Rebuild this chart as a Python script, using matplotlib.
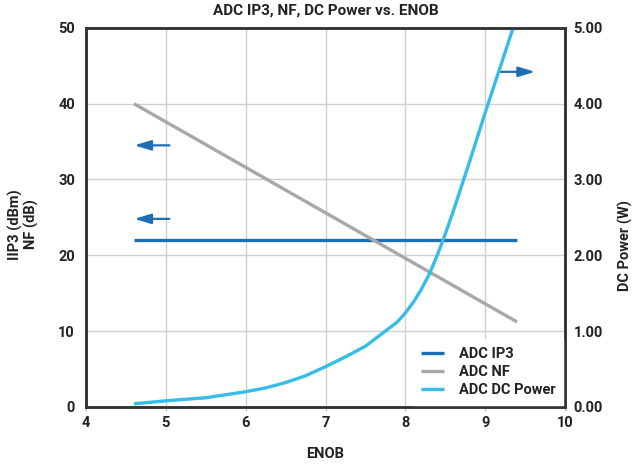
import matplotlib
matplotlib.use("Agg")
import matplotlib.pyplot as plt

plt.rcParams['font.family'] = ['Roboto', 'DejaVu Sans']
plt.rcParams['font.weight'] = 'bold'

# Data
enob_lin = [4.6, 9.4]
ip3 = [22, 22]
nf = [40, 11.2]
enob_pwr = [4.6, 4.8, 5.0, 5.25, 5.5, 5.75, 6.0, 6.25, 6.5, 6.75, 7.0, 7.25, 7.5, 7.75,
            7.9, 8.0, 8.1, 8.2, 8.3, 8.4, 8.5, 8.6, 8.7, 8.8, 8.9, 9.0, 9.1, 9.2, 9.3, 9.4]
dc_power = [0.04, 0.06, 0.08, 0.10, 0.12, 0.16, 0.20, 0.25, 0.32, 0.41, 0.53, 0.66, 0.80, 1.0,
            1.12, 1.24, 1.38, 1.55, 1.75, 2.0, 2.28, 2.58, 2.9, 3.22, 3.55, 3.88, 4.2, 4.52, 4.84, 5.16]

x_ticks = [4, 5, 6, 7, 8, 9, 10]
left_ticks = [0, 10, 20, 30, 40, 50]
right_ticks = [0, 1, 2, 3, 4, 5]
right_labels = ["0.00", "1.00", "2.00", "3.00", "4.00", "5.00"]

c_ip3 = '#1f6db2'
c_nf = '#a8a8a8'
c_pwr = '#35bde8'
c_arrow = '#1f6db2'

fig = plt.figure(figsize=(6.37, 4.72), dpi=100)
ax = fig.add_axes([0.135, 0.138, 0.752, 0.803])
ax2 = ax.twinx()

ax.set_xlim(4, 10)
ax.set_ylim(0, 50)
ax2.set_ylim(0, 5)
ax.set_xticks(x_ticks)
ax.set_yticks(left_ticks)
ax2.set_yticks(right_ticks)
ax2.set_yticklabels(right_labels)

ax.grid(True, color='#cfcfcf', linewidth=1)
ax.set_axisbelow(True)

l1, = ax.plot(enob_lin, ip3, color=c_ip3, lw=2.4, label='ADC IP3', solid_capstyle='butt')
l2, = ax.plot(enob_lin, nf, color=c_nf, lw=2.4, label='ADC NF', solid_capstyle='butt')
l3, = ax2.plot(enob_pwr, dc_power, color=c_pwr, lw=2.4, label='ADC DC Power',
               solid_capstyle='butt', solid_joinstyle='round')

# arrows
arrow_kw = dict(arrowstyle='-|>,head_length=1.0,head_width=0.3', color=c_arrow, lw=1.6)
ax.annotate('', xy=(4.57, 34.5), xytext=(5.08, 34.5), arrowprops=arrow_kw, annotation_clip=False)
ax.annotate('', xy=(4.57, 24.8), xytext=(5.08, 24.8), arrowprops=arrow_kw, annotation_clip=False)
ax.annotate('', xy=(9.66, 44.2), xytext=(9.15, 44.2), arrowprops=arrow_kw, annotation_clip=False)

for a in (ax, ax2):
    for s in a.spines.values():
        s.set_color('#333333')
        s.set_linewidth(1.8)
ax.tick_params(axis='both', length=3, color='#bbbbbb', labelsize=10.5, labelcolor='#222222')
ax2.tick_params(axis='y', length=0, labelsize=10.5, labelcolor='#222222', pad=6)
ax.tick_params(axis='y', length=0, pad=8)

ax.set_xlabel('ENOB', fontsize=10.5, fontweight='bold', labelpad=12, color='#222222')
fig.text(0.025, 0.525, 'IIP3 (dBm)', rotation=90, ha='center', va='center', fontsize=10.5, fontweight='bold', color='#222222')
fig.text(0.05, 0.525, 'NF (dB)', rotation=90, ha='center', va='center', fontsize=10.5, fontweight='bold', color='#222222')
fig.text(0.982, 0.48, 'DC Power (W)', rotation=90, ha='center', va='center', fontsize=10.5, fontweight='bold', color='#222222')
fig.text(0.512, 0.978, 'ADC IP3, NF, DC Power vs. ENOB', ha='center', va='center', fontsize=11, fontweight='bold', color='#222222')

leg = ax2.legend(handles=[l1, l2, l3], loc='lower right', frameon=True, fancybox=False,
                 edgecolor='white', framealpha=1, fontsize=10.5, handlelength=1.6,
                 borderaxespad=0.15, labelspacing=0.3, handletextpad=1.0, borderpad=0.5)
for t in leg.get_texts():
    t.set_fontweight('bold')
    t.set_color('#222222')

fig.savefig('out.png', dpi=100)
